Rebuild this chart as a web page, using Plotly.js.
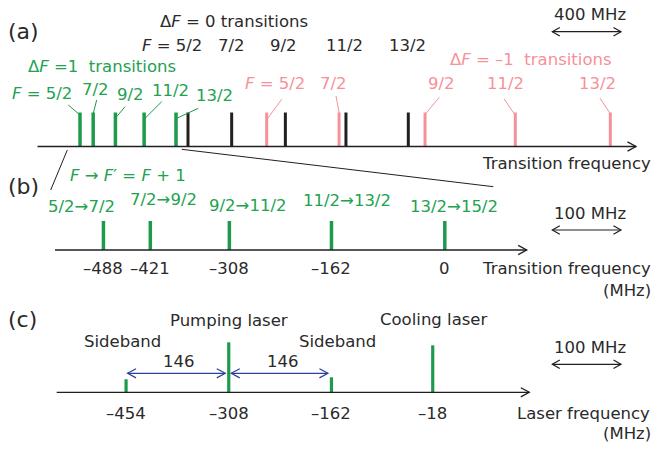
<!DOCTYPE html>
<html>
<head>
<meta charset="utf-8">
<script src="https://cdn.plot.ly/plotly-3.0.1.min.js"></script>
<style>
  html, body { margin: 0; padding: 0; background: #fff; }
  #chart { width: 653px; height: 449px; }
</style>
</head>
<body>
<div id="chart"></div>
<script>
// ---- Data -------------------------------------------------------------
// Hyperfine transition frequencies (MHz, relative to the F = 13/2 -> 15/2 line)
const hfLabels     = ['5/2', '7/2', '9/2', '11/2', '13/2'];
const deltaFPlus1  = [-488, -421, -308, -162, 0];
const deltaFZero   = [61, 283, 556, 864, 1181];
const deltaFMinus1 = [461, 829, 1266, 1725, 2208];
const strengthA    = [1, 1, 1, 1, 1];

// (b) F -> F' = F + 1 lines
const cyclingLabels = ['5/2→7/2', '7/2→9/2', '9/2→11/2', '11/2→13/2', '13/2→15/2'];
const cyclingFreq   = [-488, -421, -308, -162, 0];
const strengthB     = [1, 1, 1, 1, 1];

// (c) laser and sideband lines
const laserNames   = ['Sideband', 'Pumping laser', 'Sideband', 'Cooling laser'];
const laserFreq    = [-454, -308, -162, -18];
const laserPower   = [13, 50, 15, 47];
const sidebandSpacing = 146;

// ---- Geometry helpers ------------------------------------------------
const W = 653, H = 449;
const PX = x => x / W;          // pixel -> paper x
const PY = y => 1 - y / H;      // pixel -> paper y
const xRange = (originPx, pxPerMHz) => [-originPx / pxPerMHz, (W - originPx) / pxPerMHz];
const yRange = (basePx, pxPerUnit) => [-(H - basePx) / pxPerUnit, basePx / pxPerUnit];

const axA = { origin: 176.0, scale: 0.1967, base: 146.5, unit: 34 };
const axB = { origin: 444.8, scale: 0.6995, base: 250.0, unit: 29 };
const axC = { origin: 445.4, scale: 0.7034, base: 392.3, unit: 1 };
const toPx = (ax, v) => ax.origin + ax.scale * v;

const GREEN = '#1d9a4b', GREEN_T = '#22a24f', PINK = '#f6919a', DARK = '#231f20', TXT = '#2a2a2a', BLUE = '#2c3f9b';
const FONT = 'DejaVu Sans';
const FS = 16.5;

// ---- Traces: vertical spectral lines -------------------------------
function stickTrace(freqs, heights, color, width, xa, ya) {
  const x = [], y = [];
  freqs.forEach((f, i) => { x.push(f, f, null); y.push(0, heights[i], null); });
  return { type: 'scatter', mode: 'lines', x, y, xaxis: xa, yaxis: ya,
           line: { color, width }, hoverinfo: 'skip', showlegend: false };
}

const traces = [
  stickTrace(deltaFZero,   strengthA, DARK,  3,   'x',  'y'),
  stickTrace(deltaFMinus1, strengthA, PINK,  3,   'x',  'y'),
  stickTrace(deltaFPlus1,  strengthA, GREEN, 3.5, 'x',  'y'),
  stickTrace(cyclingFreq,  strengthB, GREEN, 3.5, 'x2', 'y2'),
  stickTrace(laserFreq,    laserPower, GREEN, 3.2, 'x3', 'y3')
];

// ---- Shapes ----------------------------------------------------------
const shapes = [];
function segment(x0, y0, x1, y1, color, width) {
  shapes.push({ type: 'line', xref: 'paper', yref: 'paper',
    x0: PX(x0), y0: PY(y0), x1: PX(x1), y1: PY(y1),
    line: { color, width } });
}
function chevron(xTip, y, dir, len, half, color, width) {
  const bx = xTip - dir * len;
  shapes.push({ type: 'path', xref: 'paper', yref: 'paper',
    path: `M${PX(bx)},${PY(y - half)} L${PX(xTip)},${PY(y)} L${PX(bx)},${PY(y + half)}`,
    line: { color, width } });
}
function axisArrow(x0, x1, y) {
  segment(x0, y, x1, y, DARK, 1.3);
  chevron(x1, y, 1, 8.5, 4.6, DARK, 1.3);
}
function doubleArrow(x0, x1, y, color, len, half, width) {
  segment(x0, y, x1, y, color, width);
  chevron(x0, y, -1, len, half, color, width);
  chevron(x1, y, 1, len, half, color, width);
}

// frequency axes
axisArrow(37.5, 636, axA.base);
axisArrow(55, 526.7, axB.base);
axisArrow(56.7, 529.3, axC.base);

// scale bars
doubleArrow(552.3, 621, 31.7, DARK, 7.5, 4.3, 1.2);
doubleArrow(552.3, 621, 230, DARK, 7.5, 4.3, 1.2);
doubleArrow(552.3, 621, 364.3, DARK, 7.5, 4.3, 1.2);

// sideband spacing arrows
const pSideL = toPx(axC, laserFreq[0]), pPump = toPx(axC, laserFreq[1]), pSideR = toPx(axC, laserFreq[2]);
const yGap = 373.3;
doubleArrow(pSideL + 1.5, pPump - 3.5, yGap, BLUE, 8.5, 4.6, 1.2);
doubleArrow(pPump + 2.5, pSideR - 3.5, yGap, BLUE, 8.5, 4.6, 1.2);

// zoom connectors between (a) and (b)
segment(67.3, 150, 50.7, 190, DARK, 1);
segment(181.7, 149.3, 493.3, 186.7, DARK, 1);

// leader lines from labels to lines in (a)
[[68.3, 105, 80, 115], [96.7, 100, 93.3, 113.3], [125, 106.7, 116.7, 116.7],
 [161.7, 101.7, 145, 118.3], [198.3, 108.3, 176.7, 118.3]]
  .forEach(s => segment(s[0], s[1], s[2], s[3], GREEN, 1));
[[281.7, 99.3, 267.7, 118.3], [336, 96, 339.3, 113.3], [439.3, 97.3, 426, 113.3],
 [504, 98.7, 515, 115], [600, 98.3, 610, 113.3]]
  .forEach(s => segment(s[0], s[1], s[2], s[3], PINK, 1));

// ---- Annotations ----------------------------------------------------
const annotations = [];
function txt(text, x, y, opts = {}) {
  annotations.push(Object.assign({
    text, xref: 'paper', yref: 'paper', x: PX(x), y: PY(y),
    xanchor: 'center', yanchor: 'middle', showarrow: false, borderpad: 0,
    font: { family: FONT, size: FS, color: TXT }
  }, opts));
}
const col = (c, size) => ({ font: { family: FONT, size: size || FS, color: c } });
const right = (c) => Object.assign({ xanchor: 'right' }, col(c || TXT));
const fmt = v => v < 0 ? '–' + (-v) : String(v);
const NB = '\u00A0';

// (a)
txt('(a)', 23, 31.7, col(TXT, 22));
txt('Δ<i>F</i> = 0 transitions', 234, 21);
txt('<i>F</i> = ' + hfLabels[0], 203, 46, right());
[231.5, 283.5, 344.5, 407].forEach((x, i) => txt(hfLabels[i + 1], x, 46));

txt('Δ<i>F</i> =1' + NB + NB + 'transitions', 101.7, 66, col(GREEN_T));
txt('<i>F</i> = ' + hfLabels[0], 73, 93, right(GREEN_T));
[[95, 89], [130.8, 94], [170, 90.5], [214, 95.5]]
  .forEach((p, i) => txt(hfLabels[i + 1], p[0], p[1], col(GREEN_T)));

txt('Δ<i>F</i> = –1' + NB + NB + 'transitions', 531, 59, col(PINK));
txt('<i>F</i> = ' + hfLabels[0], 306, 83, right(PINK));
[333.3, 441, 505.3, 597].forEach((x, i) => txt(hfLabels[i + 1], x, 83.5, col(PINK)));

txt('400 MHz', 589.5, 15);
txt('Transition frequency', 652, 163, right());

// (b)
txt('(b)', 23, 186, col(TXT, 22));
txt('<i>F</i> → <i>F</i>′ = <i>F</i> + 1', 128.3, 175.5, col(GREEN_T));
[[81.7, 206], [163.3, 199], [247.8, 205], [347, 200], [453.8, 206.7]]
  .forEach((p, i) => txt(cyclingLabels[i], p[0], p[1], col(GREEN_T)));
cyclingFreq.forEach(v => annotations.push({
  text: fmt(v), xref: 'x2', x: v, yref: 'paper', y: PY(268.3),
  xanchor: 'center', yanchor: 'middle', showarrow: false, borderpad: 0,
  font: { family: FONT, size: FS, color: TXT }
}));
txt('Transition frequency', 652, 268.3, right());
txt('(MHz)', 652, 290, right());
txt('100 MHz', 590, 213.3);

// (c)
txt('(c)', 22.5, 319, col(TXT, 22));
[[122.5, 341.7], [229, 320], [337, 341.7], [433.7, 319]]
  .forEach((p, i) => txt(laserNames[i], p[0], p[1]));
txt(String(sidebandSpacing), (pSideL + pPump) / 2 + 1.5, 361);
txt(String(sidebandSpacing), (pPump + pSideR) / 2 + 2.5, 361);
laserFreq.forEach(v => annotations.push({
  text: fmt(v), xref: 'x3', x: v, yref: 'paper', y: PY(413.3),
  xanchor: 'center', yanchor: 'middle', showarrow: false, borderpad: 0,
  font: { family: FONT, size: FS, color: TXT }
}));
txt('Laser frequency', 651, 413.3, right());
txt('(MHz)', 652, 433.3, right());
txt('100 MHz', 590, 347.7);

// ---- Layout ----------------------------------------------------------
const hidden = { visible: false, fixedrange: true, domain: [0, 1] };
const layout = {
  width: W, height: H,
  margin: { l: 0, r: 0, t: 0, b: 0, pad: 0 },
  paper_bgcolor: '#ffffff', plot_bgcolor: 'rgba(0,0,0,0)',
  showlegend: false,
  xaxis:  Object.assign({}, hidden, { range: xRange(axA.origin, axA.scale), anchor: 'y' }),
  yaxis:  Object.assign({}, hidden, { range: yRange(axA.base, axA.unit), anchor: 'x' }),
  xaxis2: Object.assign({}, hidden, { range: xRange(axB.origin, axB.scale), anchor: 'y2' }),
  yaxis2: Object.assign({}, hidden, { range: yRange(axB.base, axB.unit), anchor: 'x2' }),
  xaxis3: Object.assign({}, hidden, { range: xRange(axC.origin, axC.scale), anchor: 'y3' }),
  yaxis3: Object.assign({}, hidden, { range: yRange(axC.base, axC.unit), anchor: 'x3' }),
  shapes, annotations
};

Plotly.newPlot('chart', traces, layout, { staticPlot: true, displayModeBar: false });
</script>
</body>
</html>
